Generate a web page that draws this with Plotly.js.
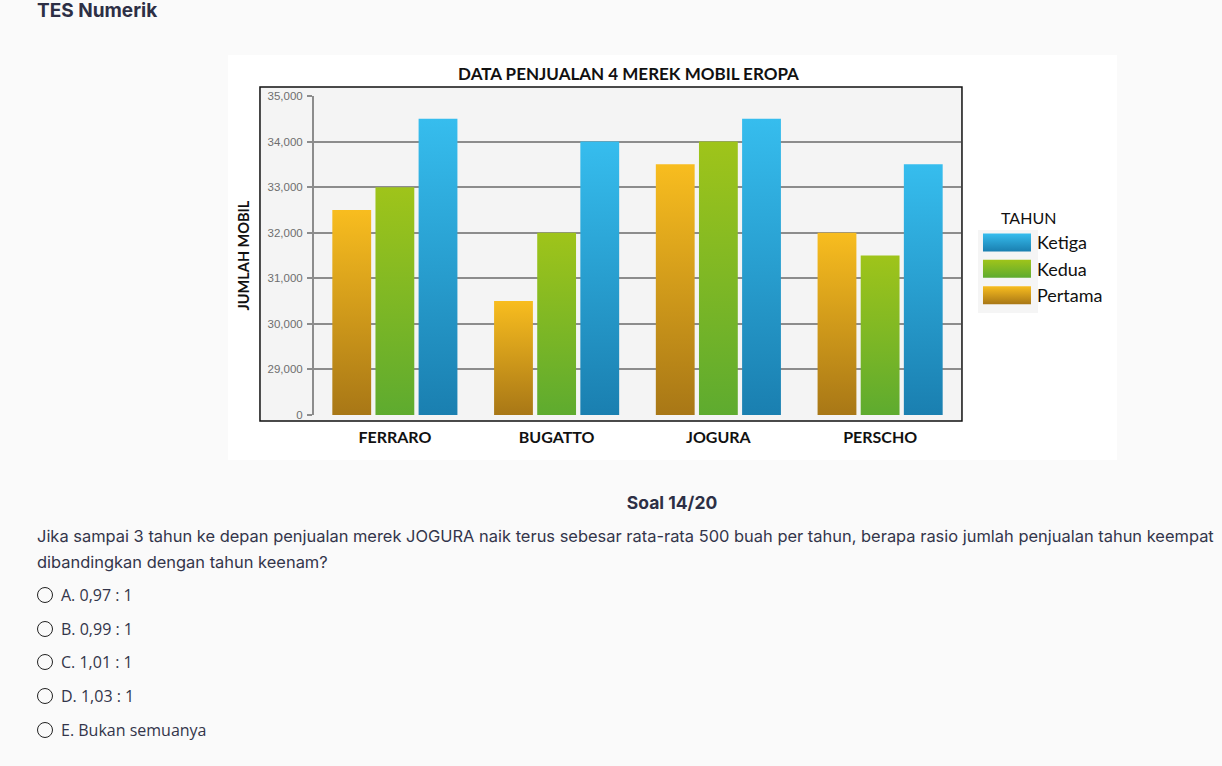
<!DOCTYPE html>
<html>
<head>
<meta charset="utf-8">
<script src="https://cdn.plot.ly/plotly-3.0.1.min.js"></script>
<style>
  html, body { margin: 0; padding: 0; background: #fafafa; width: 1222px; height: 766px; overflow: hidden; }
  .abs { position: absolute; white-space: nowrap; }
  #hdr { left: 37px; top: 0px; font-family: Inter, "Noto Sans", sans-serif; font-weight: 700; font-size: 19px; color: #2d2f45; line-height: 22px; }
  #chart { left: 228px; top: 55px; width: 889px; height: 405px; background: #fff; }
  #soal { left: 0; width: 1344px; top: 492px; text-align: center; font-family: Inter, "Noto Sans", sans-serif; font-weight: 700; font-size: 17.5px; color: #2d2f45; line-height: 22px; }
  .q { left: 37px; font-family: Inter, "Noto Sans", sans-serif; font-size: 16.45px; color: #33354a; line-height: 20px; }
  .opt { left: 37px; font-family: "Open Sans", sans-serif; font-size: 16px; color: #33354a; line-height: 20px; display: flex; align-items: center; }
  .opt .rc { width: 14px; height: 14px; border: 1.6px solid #222; border-radius: 50%; margin-right: 8px; box-sizing: content-box; }
</style>
</head>
<body>
<div id="hdr" class="abs">TES Numerik</div>
<div id="chart" class="abs"></div>
<div id="soal" class="abs">Soal 14/20</div>
<div class="abs q" style="top:526px;">Jika sampai 3 tahun ke depan penjualan merek JOGURA naik terus sebesar rata-rata 500 buah per tahun, berapa rasio jumlah penjualan tahun keempat</div>
<div class="abs q" style="top:552px;">dibandingkan dengan tahun keenam?</div>
<div class="abs opt" style="top:585px;"><span class="rc"></span>A. 0,97 : 1</div>
<div class="abs opt" style="top:619px;"><span class="rc"></span>B. 0,99 : 1</div>
<div class="abs opt" style="top:652px;"><span class="rc"></span>C. 1,01 : 1</div>
<div class="abs opt" style="top:686px;"><span class="rc"></span>D. 1,03 : 1</div>
<div class="abs opt" style="top:720px;"><span class="rc"></span>E. Bukan semuanya</div>
<script>
// ---- data ----
const brands = ["FERRARO", "BUGATTO", "JOGURA", "PERSCHO"];
const pertama = [32500, 30500, 33500, 32000];
const kedua   = [33000, 32000, 34000, 31500];
const ketiga  = [34500, 34000, 34500, 33500];
const seriesNames = ["Pertama", "Kedua", "Ketiga"];
const tickVals  = [28000, 29000, 30000, 31000, 32000, 33000, 34000, 35000];
const tickTexts = ["0", "29,000", "30,000", "31,000", "32,000", "33,000", "34,000", "35,000"];

// gradient colours (top, bottom) per series
const grads = [
  ["#f8bd1f", "#a87716"],
  ["#9fc41a", "#5eab2f"],
  ["#36bdee", "#1a7fb0"]
];
const flat = ["#d49a1b", "#7fb825", "#13a3d8"];

const seriesData = [pertama, kedua, ketiga];
const traces = seriesData.map((vals, i) => ({
  type: "bar",
  name: seriesNames[i],
  x: brands,
  y: vals,
  marker: { color: flat[i], line: { width: 0 } },
  hoverinfo: "x+y+name"
}));

const W = 889, H = 405;
const layout = {
  width: W, height: H,
  margin: { l: 86, r: 156, t: 41, b: 45, pad: 0, autoexpand: false },
  paper_bgcolor: "#ffffff",
  plot_bgcolor: "rgba(0,0,0,0)",
  barmode: "group",
  bargap: 0.2,
  bargroupgap: 0.1,
  title: {
    text: "DATA PENJUALAN 4 MEREK MOBIL EROPA",
    font: { family: "Lato", size: 17, color: "#111", weight: 700 },
    xref: "container", yref: "container",
    x: 0.4505, xanchor: "center",
    y: 1 - 19 / H, yanchor: "middle"
  },
  xaxis: {
    type: "category",
    range: [-0.5, 3.5],
    showgrid: false, zeroline: false, showline: false,
    ticks: "",
    tickfont: { family: "Lato", size: 16, color: "#111", weight: 700 },
    ticklabelstandoff: 11
  },
  yaxis: {
    range: [28000, 35000],
    tickvals: tickVals,
    ticktext: tickTexts,
    showgrid: true, gridcolor: "#8c8c8c", gridwidth: 2,
    zeroline: false,
    showline: true, linecolor: "#8c8c8c", linewidth: 2,
    ticks: "outside", ticklen: 5, tickwidth: 2, tickcolor: "#8c8c8c",
    ticklabelstandoff: 2,
    tickfont: { family: "Liberation Sans, Arial", size: 11.5, color: "#6e6e6e" },
    title: { text: "JUMLAH MOBIL", font: { family: "Lato", size: 14.5, color: "#111", weight: 700 }, standoff: 14 }
  },
  legend: {
    x: 1.0247, xanchor: "left",
    y: 0.598, yanchor: "top",
    traceorder: "reversed",
    itemwidth: 50,
    bgcolor: "rgba(0,0,0,0)",
    font: { family: "Lato", size: 18, color: "#111" }
  },
  annotations: [{
    text: "TAHUN", xref: "paper", yref: "paper",
    x: 1.1036, y: 0.6176, xanchor: "center", yanchor: "middle",
    showarrow: false, font: { family: "Lato", size: 16, color: "#111" }
  }],
  shapes: [
    { type: "rect", xref: "paper", yref: "paper", x0: -0.0835, x1: 1.0015, y0: -0.0188, y1: 1.028,
      layer: "below", fillcolor: "#f4f4f4", line: { color: "#111", width: 1.5 } },
    { type: "rect", xref: "paper", yref: "paper", x0: 1.0263, x1: 1.119, y0: 0.3197, y1: 0.58,
      layer: "below", fillcolor: "#f5f5f5", line: { width: 0 } }
  ]
};

const NS = "http://www.w3.org/2000/svg";
function addGrad(defs, id, c0, c1, user, y1, y2) {
  const g = document.createElementNS(NS, "linearGradient");
  g.setAttribute("id", id);
  g.setAttribute("x1", "0"); g.setAttribute("x2", "0");
  if (user) {
    g.setAttribute("gradientUnits", "userSpaceOnUse");
    g.setAttribute("y1", y1); g.setAttribute("y2", y2);
  } else {
    g.setAttribute("y1", "0"); g.setAttribute("y2", "1");
  }
  const s0 = document.createElementNS(NS, "stop");
  s0.setAttribute("offset", "0"); s0.setAttribute("stop-color", c0);
  const s1 = document.createElementNS(NS, "stop");
  s1.setAttribute("offset", "1"); s1.setAttribute("stop-color", c1);
  g.appendChild(s0); g.appendChild(s1);
  defs.appendChild(g);
}

const gd = document.getElementById("chart");
Plotly.newPlot(gd, traces, layout, { displayModeBar: false, responsive: false }).then(() => {
  const svg = gd.querySelector("svg.main-svg");
  const defs = document.createElementNS(NS, "defs");
  svg.insertBefore(defs, svg.firstChild);
  const plotH = gd._fullLayout._size.h;
  // bars
  const traceGroups = gd.querySelectorAll(".barlayer .trace");
  traceGroups.forEach((tg, i) => {
    tg.querySelectorAll(".point path").forEach((p, j) => {
      const bb = p.getBBox();
      const id = "bg" + i + "_" + j;
      addGrad(defs, id, grads[i][0], grads[i][1], true, Math.max(bb.y, 0), plotH);
      p.style.fill = "url(#" + id + ")";
    });
  });
  // legend swatches
  const legItems = gd.querySelectorAll(".legend .traces");
  legItems.forEach((it) => {
    const name = it.querySelector(".legendtext").textContent;
    const i = seriesNames.indexOf(name);
    const p = it.querySelector(".legendpoints path");
    if (p && i >= 0) {
      const id = "lg" + i;
      addGrad(defs, id, grads[i][0], grads[i][1], false);
      p.setAttribute("d", "M24,9H-24V-9H24Z");
      p.style.fill = "url(#" + id + ")";
      p.style.stroke = "none";
    }
  });
});
</script>
</body>
</html>
